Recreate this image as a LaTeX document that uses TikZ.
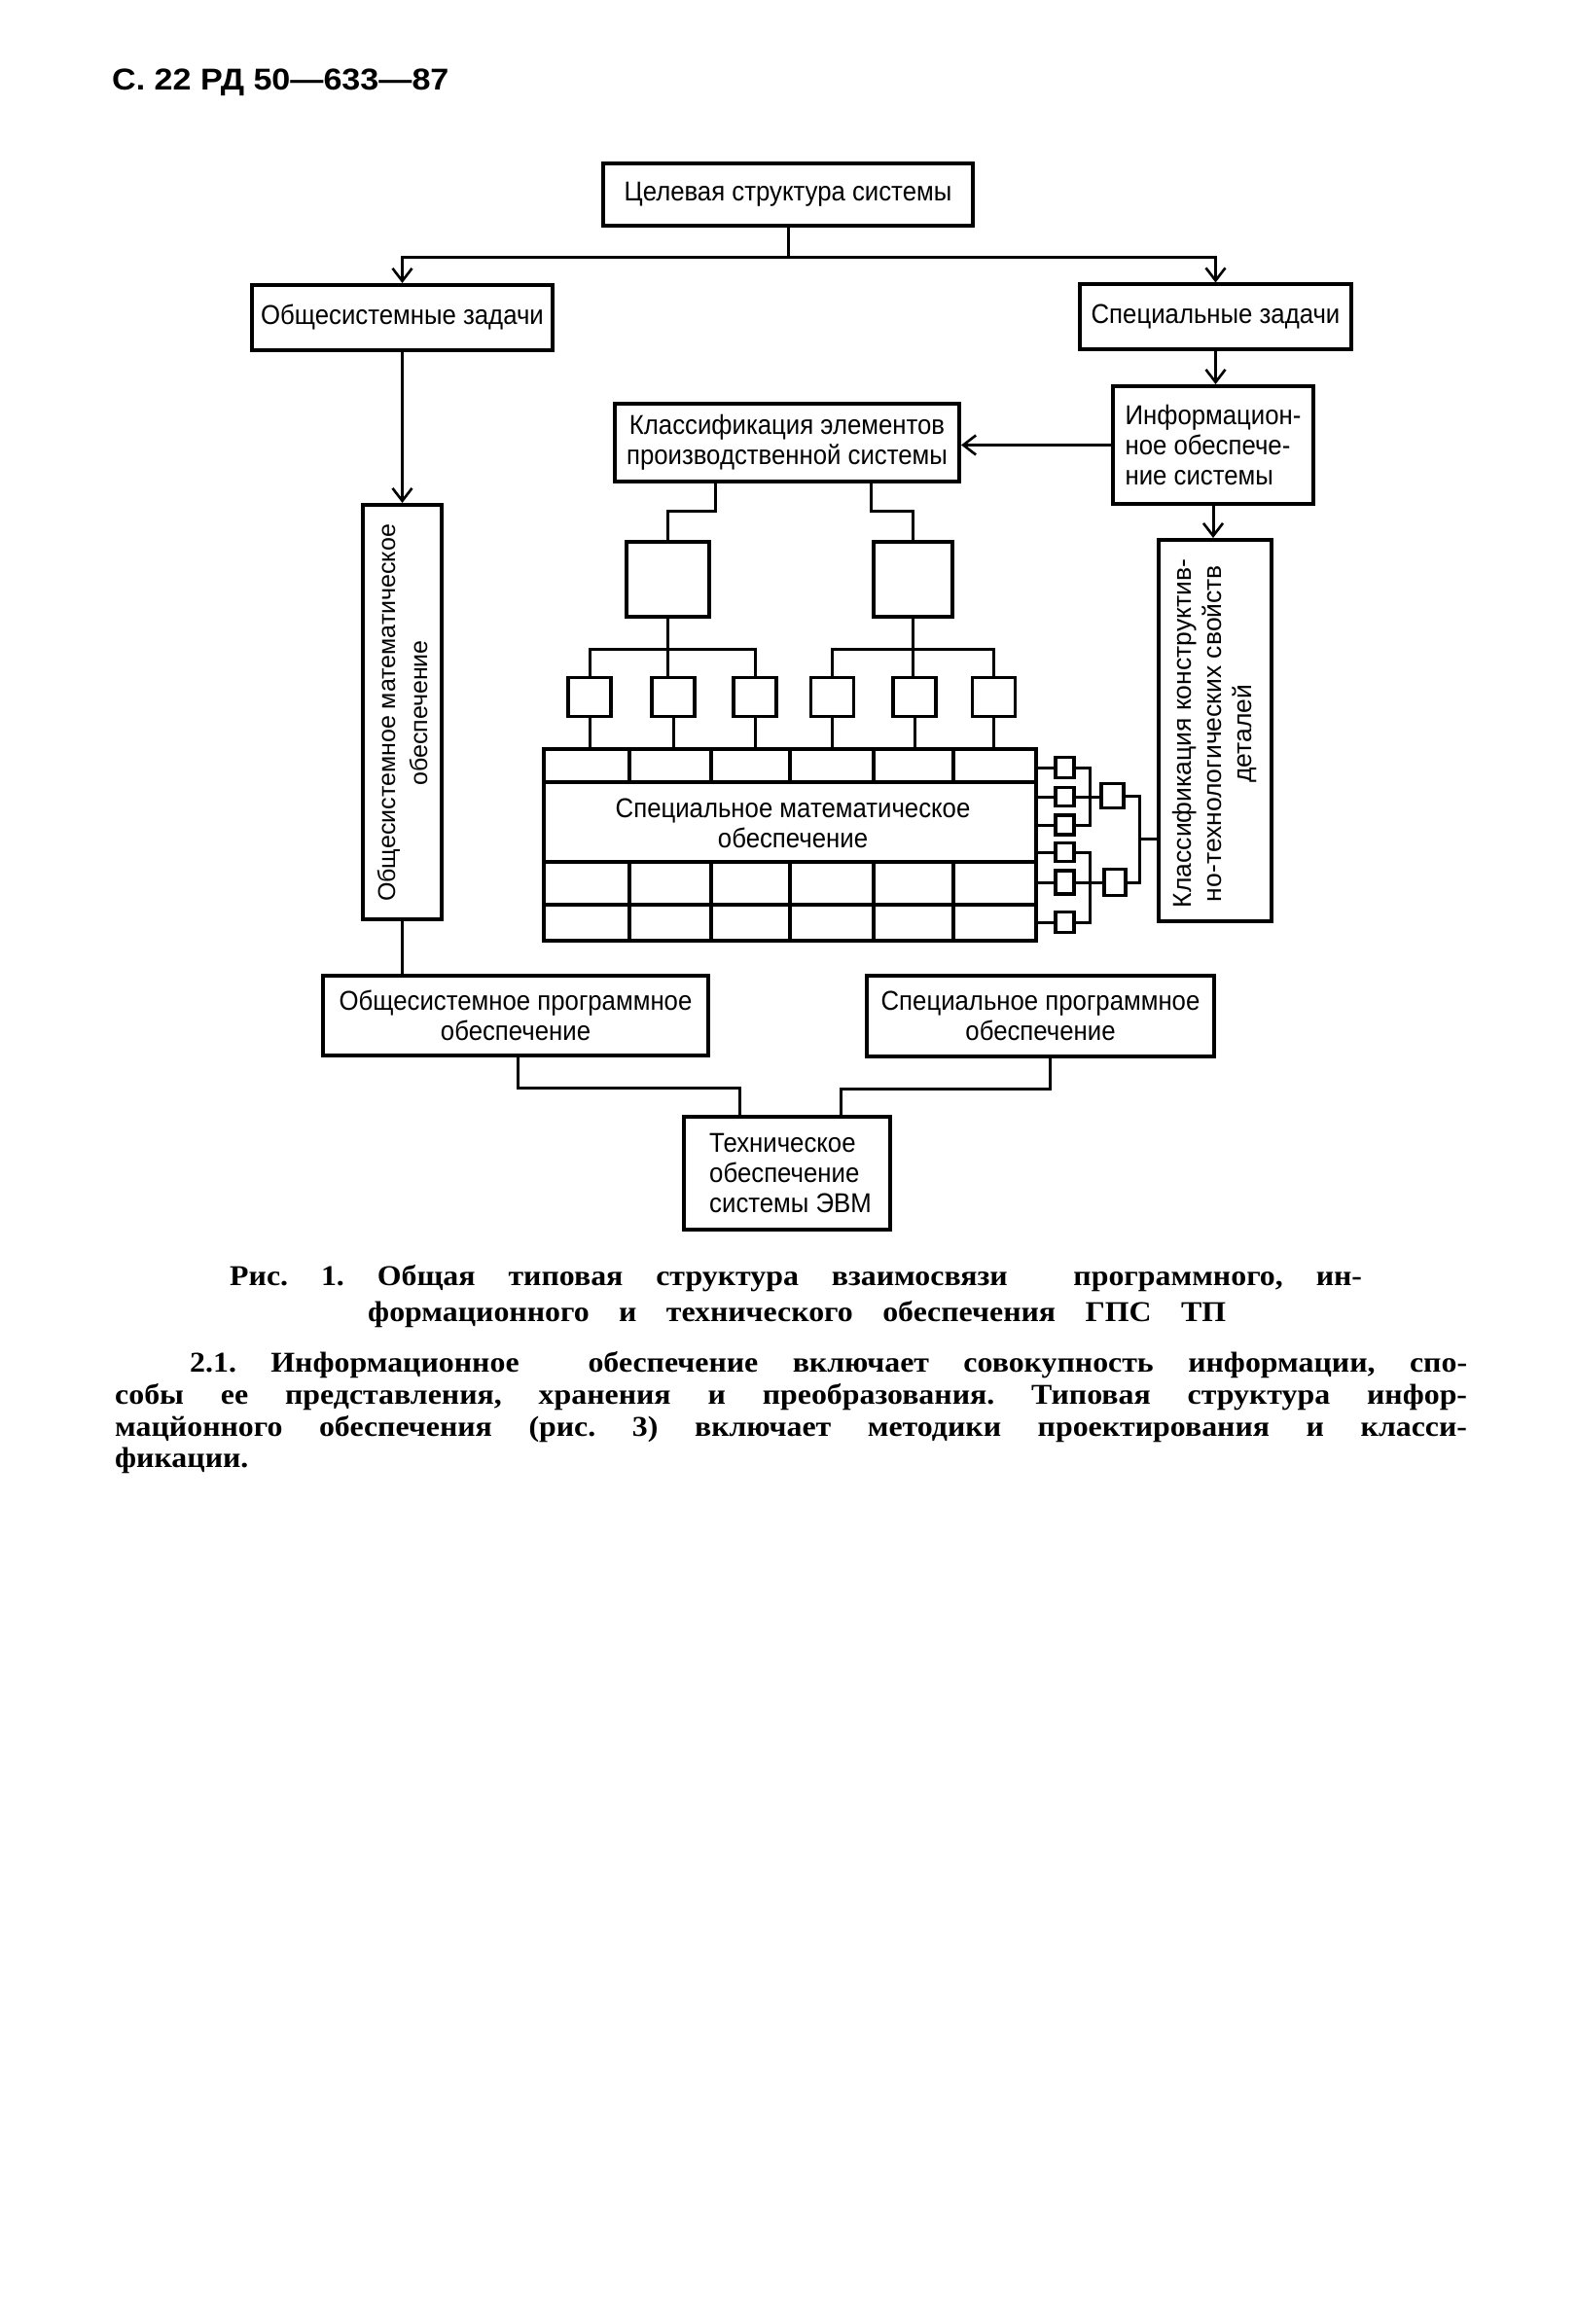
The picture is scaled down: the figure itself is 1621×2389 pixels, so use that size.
\documentclass[tikz,border=0pt]{standalone}
\usepackage{fontspec}
\setmainfont{Liberation Serif}
\newfontfamily\dg[FakeStretch=0.92]{Liberation Sans}
\newfontfamily\dgw{Liberation Sans}
\newfontfamily\hdf{Liberation Sans}
\newfontfamily\txf[FakeStretch=1.08]{Liberation Serif}
\usetikzlibrary{arrows.meta}
\begin{document}
\frenchspacing
\begin{tikzpicture}[x=1pt,y=-1pt,
  box/.style={draw,line width=4pt,rectangle,inner sep=0pt,
    font=\dg\fontsize{28}{31}\selectfont,align=center},
  sbox/.style={draw,line width=3.2pt,rectangle,inner sep=0pt},
  conn/.style={line width=3pt},
  arr/.style={conn,-{Straight Barb[length=13pt,width=20pt,line width=2.6pt]}},
  rtxt/.style={rotate=90,inner sep=0pt,font=\dgw\fontsize{25}{33}\selectfont,align=center},
  para/.style={inner sep=0pt,anchor=base west,font=\txf\bfseries\fontsize{29.5}{30}\selectfont}
]
\useasboundingbox[fill=white] (0,0) rectangle (1621,2389);

% header
\node[inner sep=0pt,anchor=base west,font=\hdf\bfseries\fontsize{31}{31}\selectfont] (hdr) at (115,93) {\scalebox{1.1}[1]{С. 22 РД 50—633—87}};

% main boxes
\node[box,minimum width=380pt,minimum height=64pt] (tgt) at (810,200) {Целевая структура системы};
\node[box,minimum width=309pt,minimum height=67pt] (ltask) at (413.5,326.5) {Общесистемные задачи};
\node[box,minimum width=279pt,minimum height=66pt] (rtask) at (1249.5,325.5) {Специальные задачи};
\node[box,minimum width=354pt,minimum height=80pt] (cls) at (809,455) {Классификация элементов\\производственной системы};
\node[box,minimum width=206pt,minimum height=121pt,align=left] (info) at (1247,457.5) {Информацион-\\ное обеспече-\\ние системы};
\node[box,minimum width=81pt,minimum height=426pt] (lrot) at (413.5,732) {};
\node[rtxt] (lrottxt) at (413.5,733) {Общесистемное математическое\\обеспечение};
\node[box,minimum width=116pt,minimum height=392pt] (rrot) at (1249,751) {};
\node[rtxt,font=\dgw\fontsize{26.5}{31}\selectfont] (rrottxt) at (1249,754) {Классификация конструктив-\\но-технологических свойств\\деталей};

% middle boxes
\node[box,minimum width=85pt,minimum height=77pt] (m1) at (686.5,595.5) {};
\node[box,minimum width=81pt,minimum height=77pt] (m2) at (938.5,595.5) {};

% small boxes
\foreach \i/\x in {1/606,2/692,3/776,4/855.5,5/940,6/1021.5}
  \node[sbox,minimum width=44pt,minimum height=40pt] (s\i) at (\x,716.5) {};

% grid
\node[box,minimum width=506pt,minimum height=197pt] (grid) at (812,868.5) {};
\draw[line width=3.2pt] (559,804) -- (1065,804);
\draw[line width=3.2pt] (559,886) -- (1065,886);
\draw[line width=3.2pt] (559,930) -- (1065,930);
\foreach \x in {647,731,812,898,980} {
  \draw[line width=3.2pt] (\x,770) -- (\x,804);
  \draw[line width=3.2pt] (\x,886) -- (\x,967);
}
\node[inner sep=0pt,align=center,font=\dg\fontsize{28}{31}\selectfont] (smtxt) at (815,846) {Специальное математическое\\обеспечение};

% cluster boxes
\foreach \i/\y/\h in {1/789/21,2/819/19,3/848/20,4/876/19,5/907/24,6/948/21}
  \node[sbox,minimum width=19pt,minimum height=\h pt] (c\i) at (1094.5,\y) {};
\node[sbox,minimum width=23pt,minimum height=25pt] (ca) at (1143.5,818) {};
\node[sbox,minimum width=22pt,minimum height=27pt] (cb) at (1146,907) {};

% program boxes
\node[box,minimum width=396pt,minimum height=82pt] (lprog) at (530,1044) {Общесистемное программное\\обеспечение};
\node[box,minimum width=357pt,minimum height=83pt] (rprog) at (1069.5,1044.5) {Специальное программное\\обеспечение};
\node[box,minimum width=212pt,minimum height=116pt,align=left] (tech) at (809,1206) {\hspace*{7pt}Техническое\\\hspace*{7pt}обеспечение\\\hspace*{7pt}системы ЭВМ};

% connectors
\draw[arr] (tgt.south) -- ++(0,31) -| (ltask.north);
\draw[arr] (tgt.south) -- ++(0,31) -| (rtask.north);
\draw[arr] (ltask.south) -- (lrot.north);
\draw[arr] (rtask.south) -- (rtask.south |- info.north);
\draw[arr] (info.west) -- (info.west -| cls.east);
\draw[arr] (info.south) -- (info.south |- rrot.north);
\draw[conn] ([xshift=-74pt]cls.south) -- ++(0,28) -| (m1.north);
\draw[conn] ([xshift=86pt]cls.south) -- ++(0,28) -| (m2.north);
\draw[conn] (m1.south) -- (m1.south |- s2.north);
\draw[conn] (m2.south) -- (m2.south |- s5.north);
\draw[conn] (s1.north) -- ++(0,-27) -| (s3.north);
\draw[conn] (s4.north) -- ++(0,-27) -| (s6.north);
\foreach \i in {1,...,6} \draw[conn] (s\i.south) -- (s\i.south |- grid.north);
\foreach \i in {1,...,6} \draw[conn] (c\i.west -| grid.east) -- (c\i.west);
\draw[conn] (c1.east) -- ++(15,0) |- (c3.east);
\draw[conn] (c4.east) -- ++(15,0) |- (c6.east);
\draw[conn] (c2.east) -- (c2.east -| ca.west);
\draw[conn] (c5.east) -- (c5.east -| cb.west);
\draw[conn] (ca.east) -- ++(15,0) |- (cb.east);
\coordinate (cj) at (1170,862);
\draw[conn] (cj) -- (cj -| rrot.west);
\draw[conn] (lrot.south) -- (lrot.south |- lprog.north);
\draw[conn] ([xshift=2pt]lprog.south) -- ++(0,31) -| ([xshift=-49pt]tech.north);
\draw[conn] ([xshift=10pt]rprog.south) -- ++(0,31) -| ([xshift=55pt]tech.north);

% caption and paragraph
\node[para] (cap1) at (236,1321) {\makebox[1164pt][s]{Рис. 1. Общая типовая структура взаимосвязи\ \ программного, ин-}};
\node[para] (cap2) at (378,1358) {\makebox[882pt][s]{формационного и технического обеспечения ГПС ТП}};
\node[para] (p1) at (195,1410) {\makebox[1313pt][s]{2.1. Информационное\ \ обеспечение включает совокупность информации, спо-}};
\node[para] (p2) at (118,1443) {\makebox[1390pt][s]{собы ее представления, хранения и преобразования. Типовая структура инфор-}};
\node[para] (p3) at (118,1476) {\makebox[1390pt][s]{мацйонного обеспечения (рис. 3) включает методики проектирования и класси-}};
\node[para] (p4) at (118,1508) {фикации.};
\end{tikzpicture}
\end{document}
